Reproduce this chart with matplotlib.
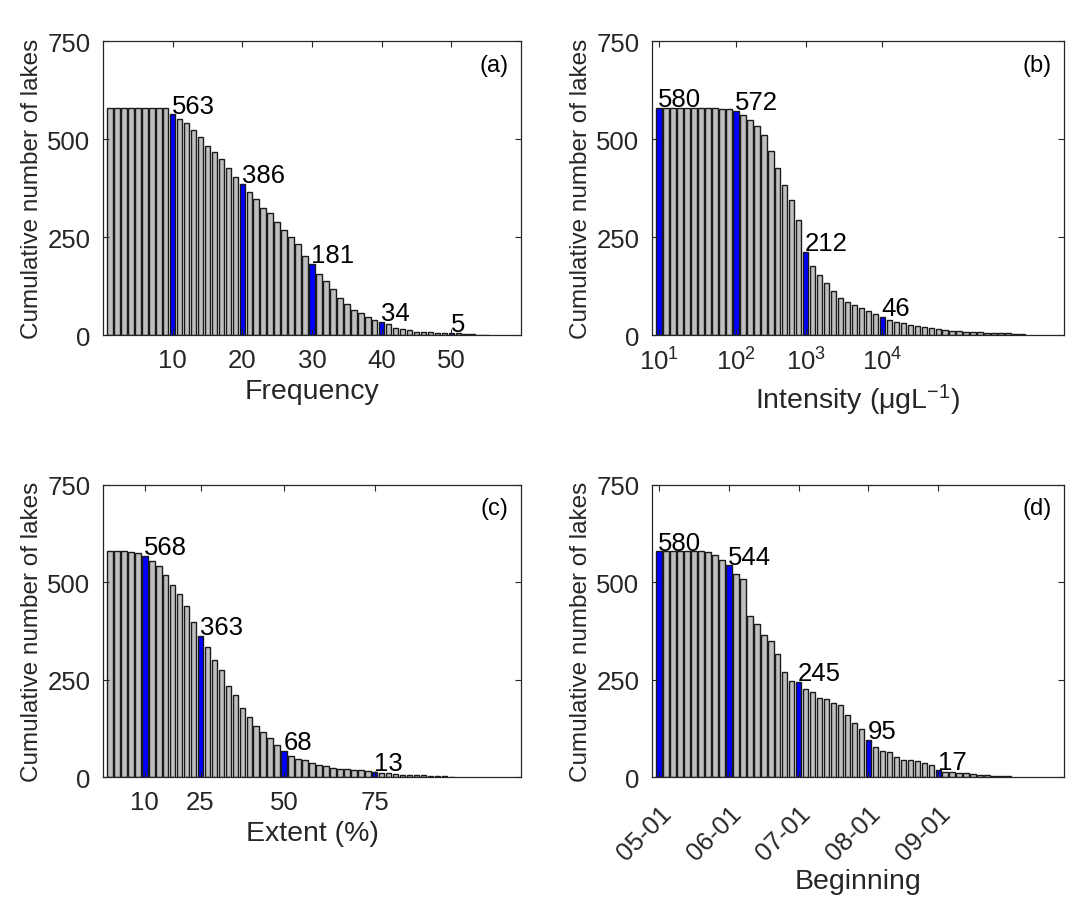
import numpy as np
import matplotlib
matplotlib.use('Agg')
import matplotlib.pyplot as plt

plt.rc('font', family='Liberation Sans', size=18.5)
plt.rc('mathtext', fontset='custom', rm='Liberation Sans', it='Liberation Sans:italic')

# cumulative lake counts per bin (bar i = lakes with value >= bin i)
frequency = [580, 580, 580, 580, 580, 580, 580, 580, 578, 563,
             552, 542, 523, 505, 483, 466, 448, 425, 404, 386,
             364, 347, 323, 311, 287, 267, 251, 233, 202, 181,
             156, 139, 118, 95, 78, 65, 56, 46, 38, 34,
             27, 19, 15, 12, 8, 7, 7, 6, 6, 5,
             4, 3, 2, 1, 1]
intensity = [580, 580, 580, 580, 580, 580, 580, 580, 579, 577,
             576, 572, 561, 548, 533, 509, 469, 427, 383, 344,
             293, 212, 176, 153, 133, 112, 94, 85, 76, 68,
             62, 54, 46, 37, 34, 30, 25, 23, 21, 19,
             15, 13, 11, 9, 8, 8, 7, 6, 5, 5,
             4, 3, 2]
extent = [580, 580, 580, 578, 575, 568, 556, 542, 520, 494,
          469, 439, 399, 363, 334, 301, 274, 233, 211, 178,
          155, 132, 115, 99, 83, 68, 53, 47, 44, 36,
          30, 28, 24, 21, 20, 18, 17, 15, 13, 11,
          9, 8, 5, 5, 4, 4, 3, 3, 2, 1]
beginning = [580, 580, 580, 580, 580, 580, 580, 578, 571, 557,
             544, 521, 508, 414, 394, 364, 350, 315, 270, 246,
             245, 226, 219, 202, 201, 190, 185, 160, 138, 123,
             95, 77, 66, 64, 52, 44, 43, 41, 37, 31,
             17, 14, 12, 11, 11, 7, 6, 4, 3, 3,
             2]

# highlighted bins (1-based bar index) and their tick labels
freq_marks = [10, 20, 30, 40, 50]
freq_labels = ['10', '20', '30', '40', '50']
int_marks = [1, 12, 22, 33]
int_labels = ['$10^{1}$', '$10^{2}$', '$10^{3}$', '$10^{4}$']
ext_marks = [6, 14, 26, 39]
ext_labels = ['10', '25', '50', '75']
beg_marks = [1, 11, 21, 31, 41]
beg_labels = ['05-01', '06-01', '07-01', '08-01', '09-01']

dark = '#262626'
W, H = 1066, 903
fig = plt.figure(figsize=(W / 100, H / 100), dpi=100)


def panel(rect, values, marks, ticklabels, xmax, xlabel, tag, rotate=False):
    ax = fig.add_axes([rect[0] / W, 1 - rect[3] / H,
                       (rect[2] - rect[0]) / W, (rect[3] - rect[1]) / H])
    x = np.arange(1, len(values) + 1)
    colors = ['#0000ff' if i in marks else '#bfbfbf' for i in x]
    ax.bar(x, values, 0.8, color=colors, edgecolor='#1a1a1a', linewidth=1.0)
    for m in marks:
        v = values[m - 1]
        ax.text(m - 0.1, v + 4, '%d' % v, ha='left', va='baseline',
                fontsize=18.5, color='black')
    ax.set_xlim(0, xmax)
    ax.set_ylim(0, 750)
    ax.set_yticks([0, 250, 500, 750])
    ax.set_xticks(marks)
    ax.tick_params(direction='in', length=4, width=0.8, top=True, right=True,
                   colors=dark, labelsize=18.5, pad=9)
    if rotate:
        ax.set_xticklabels(ticklabels, rotation=45, ha='right',
                           rotation_mode='anchor')
        ax.tick_params(axis='x', pad=17)
        xpad = 3
    else:
        ax.set_xticklabels(ticklabels)
        xpad = 5
    for s in ax.spines.values():
        s.set_color(dark)
        s.set_linewidth(0.9)
    ax.set_xlabel(xlabel, fontsize=20.5, color=dark, labelpad=xpad)
    ax.set_ylabel('Cumulative number of lakes', fontsize=17.5, color=dark,
                  labelpad=3)
    ax.text(0.97, 0.92, tag, transform=ax.transAxes, ha='right', va='center',
            fontsize=17, color='black')
    return ax


panel((103, 42, 521, 336), frequency, freq_marks, freq_labels, 60,
      'Frequency', '(a)')
panel((652, 42, 1064, 336), intensity, int_marks, int_labels, 59,
      'Intensity (μgL$^{-1}$)', '(b)')
panel((103, 486, 521, 778), extent, ext_marks, ext_labels, 60,
      'Extent (%)', '(c)')
panel((652, 486, 1064, 778), beginning, beg_marks, beg_labels, 59,
      'Beginning', '(d)', rotate=True)

plt.savefig('out.png', dpi=100)
